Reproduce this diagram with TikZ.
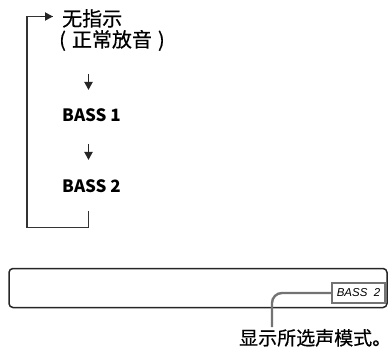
\documentclass[tikz,border=0pt]{standalone}
\usepackage{fontspec}
\setmainfont{Noto Sans CJK SC}
\newfontfamily\cjkm{Noto Sans CJK SC}[FakeBold=0.5]
\newfontfamily\lcdfont{Liberation Sans}
\usetikzlibrary{arrows.meta}
\tikzset{
  lbl/.style={anchor=base west, inner sep=0pt, font=\cjkm\fontsize{20}{20}\selectfont},
  capt/.style={anchor=base west, inner sep=0pt, font=\cjkm\fontsize{19}{19}\selectfont},
  bl/.style={anchor=base west, inner sep=0pt, font=\fontsize{17}{17}\selectfont\bfseries},
  flow/.style={line width=1.8pt, draw=black!85, -{Triangle[length=8pt,width=8pt]}},
  loopline/.style={line width=1.8pt, draw=black!80},
  disp/.style={draw=black!85, line width=1.5pt, rounded corners=4pt, inner sep=0pt},
  lcdbox/.style={draw=black!55, line width=2.2pt, fill=white, inner sep=0pt, font=\lcdfont\fontsize{11.5}{11.5}\selectfont\itshape},
  leader/.style={draw=black!55, line width=2.4pt, rounded corners=10pt},
}
\begin{document}
\begin{tikzpicture}[x=1pt,y=-1pt]
\useasboundingbox (0,0) rectangle (389,353);
% flow list
\node[lbl] (n0) at (62,26) {无指示};
\node[lbl] (n0b) at (59,47) {(\hspace{6pt}正常放音\hspace{6pt})};
\node[bl] (b1) at (62,122) {BASS 1};
\node[bl] (b2) at (62,193) {BASS 2};
\coordinate (a1s) at (88.5,74);
\coordinate (a1e) at (88.5,90);
\coordinate (a2s) at (88.5,144);
\coordinate (a2e) at (88.5,160);
\draw[flow] (a1s) -- (a1e);
\draw[flow] (a2s) -- (a2e);
% loop back
\coordinate (ls) at (88.5,211);
\coordinate (lc) at (27,227.5);
\coordinate (le) at (53,16.5);
\draw[loopline] (ls) |- (lc) |- (le);
\draw[flow] (40,16.5) -- (le);
% display
\node[disp, minimum width=378pt, minimum height=39pt] (disp) at (198,288) {};
\node[lcdbox, minimum width=53pt, minimum height=20pt] (lcd) at (358.5,293) {BASS\ \ 2};
\node[capt] (cap) at (239,345) {显示所选声模式\makebox[0.55em][l]{。}};
\coordinate (ld) at (272,327);
\draw[leader] (lcd.west) -| (ld);
\end{tikzpicture}
\end{document}
